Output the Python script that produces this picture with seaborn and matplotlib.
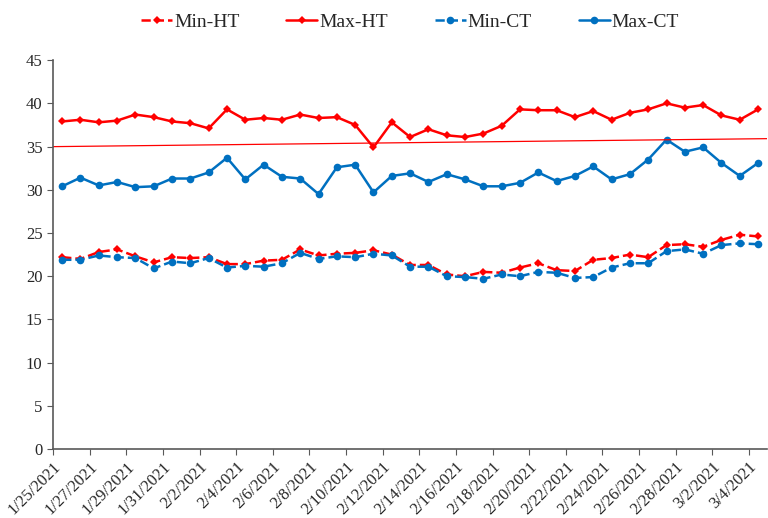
import numpy as np
import pandas as pd
import matplotlib
matplotlib.use("Agg")
import matplotlib.pyplot as plt
import seaborn as sns

# daily values, 1/25/2021 .. 3/4/2021
dates = pd.date_range("2021-01-25", "2021-03-04", freq="D")

min_ht = [22.2, 22.0, 22.8, 23.1, 22.3, 21.6, 22.2, 22.1, 22.2, 21.4, 21.4, 21.8, 21.9,
          23.1, 22.4, 22.6, 22.7, 23.0, 22.5, 21.3, 21.3, 20.2, 20.0, 20.5, 20.4, 21.0,
          21.5, 20.7, 20.6, 21.9, 22.1, 22.5, 22.2, 23.6, 23.7, 23.4, 24.2, 24.8, 24.6]
max_ht = [37.9, 38.1, 37.8, 38.0, 38.7, 38.4, 37.9, 37.7, 37.1, 39.3, 38.1, 38.3, 38.1,
          38.7, 38.3, 38.4, 37.5, 34.9, 37.8, 36.1, 37.0, 36.3, 36.1, 36.5, 37.4, 39.3,
          39.2, 39.2, 38.4, 39.1, 38.1, 38.9, 39.3, 40.0, 39.5, 39.8, 38.6, 38.1, 39.3]
min_ct = [21.9, 21.9, 22.4, 22.2, 22.1, 20.9, 21.7, 21.5, 22.1, 21.0, 21.2, 21.1, 21.5,
          22.7, 22.0, 22.3, 22.2, 22.6, 22.4, 21.1, 21.1, 20.0, 19.9, 19.7, 20.2, 20.0,
          20.5, 20.4, 19.8, 19.9, 21.0, 21.5, 21.5, 22.9, 23.1, 22.6, 23.6, 23.8, 23.7]
max_ct = [30.4, 31.4, 30.5, 30.9, 30.3, 30.4, 31.3, 31.3, 32.0, 33.7, 31.2, 32.9, 31.5,
          31.3, 29.5, 32.6, 32.9, 29.7, 31.6, 31.9, 30.9, 31.8, 31.2, 30.4, 30.4, 30.8,
          32.0, 31.0, 31.6, 32.7, 31.2, 31.8, 33.5, 35.8, 34.4, 34.9, 33.1, 31.6, 33.1]
# thin red line: value at first and last day
trend = [35.0, 35.9]

labels = [f"{d.month}/{d.day}/{d.year}" for d in dates]

RED = "#FF0000"
BLUE = "#0070C0"

sns.set_style("ticks")
plt.rcParams["font.family"] = ["Liberation Serif", "DejaVu Serif"]

df = pd.DataFrame({"day": np.arange(len(dates)), "Min-HT": min_ht, "Max-HT": max_ht,
                   "Min-CT": min_ct, "Max-CT": max_ct})

fig = plt.figure(figsize=(7.68, 5.18), dpi=100)
ax = fig.add_axes([0.069, 0.133, 0.93, 0.751])

series = [("Min-HT", RED, "D", "--", 4),
          ("Max-HT", RED, "D", "-", 4),
          ("Min-CT", BLUE, "o", "--", 5.5),
          ("Max-CT", BLUE, "o", "-", 5.5)]
for name, color, marker, ls, ms in series:
    sns.lineplot(data=df, x="day", y=name, ax=ax, color=color, marker=marker,
                 markersize=ms, markeredgewidth=0, linewidth=1.8, label=name,
                 linestyle=ls)

ax.axline((0, trend[0]), (len(dates) - 1, trend[1]), color=RED, linewidth=0.9)

ax.set_xlim(-0.5, len(dates) - 0.5)
ax.set_ylim(0, 45)
ax.set_yticks(np.arange(0, 46, 5))
ax.set_xticks(np.arange(0, len(dates), 2) - 0.5)
ax.set_xticklabels(labels[::2], rotation=45, ha="right", rotation_mode="anchor", fontsize=12)
ax.tick_params(axis="y", labelsize=12, length=4, color="#595959")
ax.tick_params(axis="x", length=4, color="#595959", pad=3)
ax.set_xlabel("")
ax.set_ylabel("")
for s in ["top", "right"]:
    ax.spines[s].set_visible(False)
for s in ["left", "bottom"]:
    ax.spines[s].set_color("#595959")
    ax.spines[s].set_linewidth(1.2)

ax.legend(loc="center", bbox_to_anchor=(0.5, 1.098), ncol=4, frameon=False,
          fontsize=14, handlelength=1.6, handletextpad=0.1, columnspacing=2.4)

fig.savefig("out.png", dpi=100)
